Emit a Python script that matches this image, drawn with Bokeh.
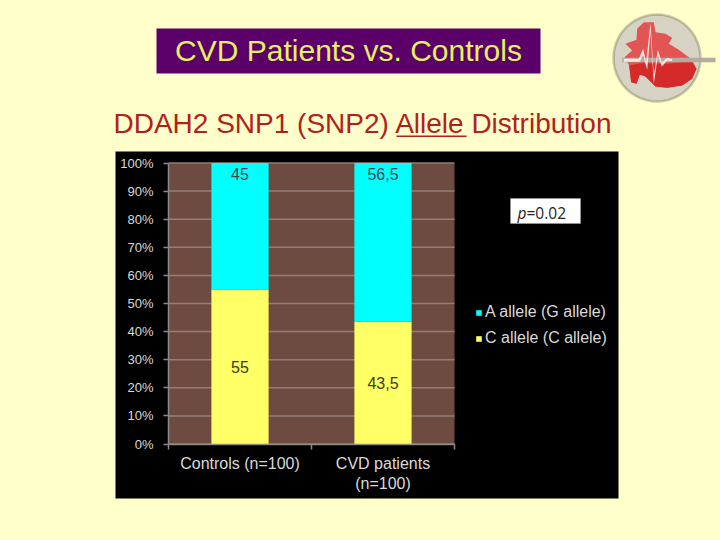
from bokeh.embed import file_html
from bokeh.resources import INLINE
from bokeh.plotting import figure
from bokeh.models import (ColumnDataSource, FixedTicker, Label, BoxAnnotation, PolyAnnotation,
                          Legend, LegendItem, Range1d, LinearAxis)
from bokeh.core.properties import value
import math

categories = ["Controls (n=100)", "CVD patients\n(n=100)"]
c_allele = [55, 43.5]
a_allele = [45, 56.5]
series_names = ["A allele (G allele)", "C allele (C allele)"]
y_ticks = [0, 10, 20, 30, 40, 50, 60, 70, 80, 90, 100]
title_text = "CVD Patients vs. Controls"
subtitle_text = "DDAH2 SNP1 (SNP2) Allele Distribution"

W, H = 716, 536
BG = "#FFFFCC"
LIGHT = "#DADADA"
AXIS = "#8E8A88"
# plot area in page pixels
PL, PR, PT, PB = 168.0, 454.0, 162.5, 443.5
ux = (PR - PL) / len(categories)
uy = (PB - PT) / 100.0

p = figure(width=W, height=H, output_backend="svg", toolbar_location=None,
           x_axis_location=None, y_axis_location=None,
           x_range=Range1d(-PL / ux, (W - PL) / ux),
           y_range=Range1d((PB - H) / uy, PB / uy),
           min_border=0, min_border_left=0, min_border_right=0, min_border_top=0, min_border_bottom=0)
p.background_fill_color = BG
p.border_fill_color = BG
p.outline_line_color = None
p.grid.visible = False

centers = [i + 0.5 for i in range(len(categories))]
src = ColumnDataSource(dict(
    x=centers, c=c_allele, a=a_allele, zero=[0] * len(categories),
    top=[c + a for c, a in zip(c_allele, a_allele)],
    c_mid=[v / 2 for v in c_allele],
    a_txt=[str(v).replace(".", ",") for v in a_allele],
    c_txt=[str(v).replace(".", ",") for v in c_allele],
))


def sy(y):
    return H - y


def box(l, t, r, b, color, line=None, level="image"):
    p.add_layout(BoxAnnotation(left=l, right=r, top=sy(t), bottom=sy(b),
                               left_units="screen", right_units="screen", top_units="screen", bottom_units="screen",
                               fill_color=color, fill_alpha=1, line_color=line, level=level, editable=False))


def label(text, x, y, size, color, align="left", style="normal", font="Liberation Sans"):
    p.add_layout(Label(x=x, y=sy(y), x_units="screen", y_units="screen", text=text, text_font=font,
                       text_font_size=f"{size}px", text_color=color, text_align=align,
                       text_baseline="middle", text_font_style=style))


def poly(points, fill, line=None, lw=1):
    p.add_layout(PolyAnnotation(xs=[a for a, b in points], ys=[sy(b) for a, b in points],
                                xs_units="screen", ys_units="screen", fill_color=fill, fill_alpha=1,
                                line_color=line, line_width=lw, level="overlay", editable=False))


box(115, 151, 618, 498, "#000000")
box(PL, PT, PR, PB, "#6E4B41")
box(156, 28, 540, 73, "#5A0068")
box(510, 198, 580, 223, "#FFFFFF", "#BBBBBB")

p.segment(x0=[0] * len(y_ticks), x1=[len(categories)] * len(y_ticks), y0=y_ticks, y1=y_ticks,
          line_color="#8E7F79", line_width=1.5, level="underlay")

ycoords = FixedTicker(ticks=y_ticks)
yaxis = LinearAxis(fixed_location=0, ticker=ycoords, bounds=(0, 100))
yaxis.major_label_overrides = {v: f"{v}%" for v in y_ticks}
xaxis = LinearAxis(fixed_location=0, bounds=(0, len(categories)),
                   ticker=FixedTicker(ticks=centers, minor_ticks=list(range(len(categories) + 1))))
xaxis.major_label_overrides = dict(zip(centers, categories))
for ax in (xaxis, yaxis):
    ax.axis_line_color = AXIS
    ax.axis_line_width = 1.5
    ax.major_label_text_color = LIGHT
    ax.major_label_text_font = "Liberation Sans"
yaxis.major_label_text_font_size = "13px"
xaxis.major_label_text_font_size = "16px"
yaxis.major_tick_line_color = AXIS
yaxis.major_tick_line_width = 1.5
yaxis.major_tick_in = 0
yaxis.major_tick_out = 5
yaxis.minor_tick_line_color = None
yaxis.major_label_standoff = 10
xaxis.major_tick_line_color = None
xaxis.minor_tick_line_color = AXIS
xaxis.minor_tick_line_width = 1.5
xaxis.minor_tick_in = 0
xaxis.minor_tick_out = 5
xaxis.major_label_standoff = 5
p.add_layout(yaxis, "left")
p.add_layout(xaxis, "below")

bw = 0.4
r_c = p.vbar(x="x", bottom="zero", top="c", width=bw, source=src, fill_color="#FFFF66", line_color=None)
r_a = p.vbar(x="x", bottom="c", top="top", width=bw, source=src, fill_color="#00FFFF", line_color=None)

p.text(x="x", y="top", text="a_txt", source=src, text_color="#3A4A4A", text_font=value("Liberation Sans"),
       text_font_size="16px", text_align="center", text_baseline="middle", y_offset=11)
p.text(x="x", y="c_mid", text="c_txt", source=src, text_color="#3A3A20", text_font=value("Liberation Sans"),
       text_font_size="16px", text_align="center", text_baseline="middle")

legend = Legend(items=[LegendItem(label=series_names[0], renderers=[r_a]),
                       LegendItem(label=series_names[1], renderers=[r_c])],
                location=(475, sy(347)), background_fill_alpha=0, border_line_color=None,
                glyph_width=7, glyph_height=7, label_text_color=LIGHT, label_text_font="Liberation Sans",
                label_text_font_size="16px", spacing=8, padding=0, margin=0, label_standoff=3,
                label_height=18)
p.add_layout(legend, "center")

label(title_text, 348, 50, 30, "#E6F060", align="center")
label(subtitle_text, 113, 123, 28, "#B3201A")
box(396, 135, 466, 136.5, "#B3201A", level="overlay")
label("p", 517, 212, 15.5, "#222222", style="italic", font="Open Sans")
label("=0.02", 526, 212, 15.5, "#222222", font="Open Sans")


def h(points):
    return [(600 + a / 3, b / 3) for a, b in points]


def ring(cx, cy, rx, ry, n=48):
    return [(cx + rx * math.cos(2 * math.pi * i / n), cy + ry * math.sin(2 * math.pi * i / n)) for i in range(n)]


poly(ring(656.5, 57.5, 43.5, 43.5), "#D6D3C4", "#4E5A2E", 2.5)
poly(h([(75, 130), (108, 118), (110, 85), (130, 65), (160, 65), (165, 95), (195, 100), (215, 112), (205, 130),
        (235, 148), (275, 178), (288, 205), (275, 235), (245, 255), (200, 262), (165, 258), (135, 228),
        (118, 222), (108, 250), (92, 245), (86, 195), (72, 170), (95, 150)]), "#E25555")
poly(h([(120, 188), (200, 190), (272, 182), (288, 205), (275, 235), (245, 255), (200, 262), (165, 258),
        (135, 228), (118, 222), (108, 250), (92, 245), (86, 195)]), "#D42A2A")
poly(h([(65, 172), (345, 172), (345, 185), (65, 185)]), "#B5ACA0")
poly(h([(70, 175), (115, 175), (128, 145), (137, 185), (150, 68), (160, 225), (172, 148), (184, 186), (200, 172),
        (215, 176), (215, 182), (200, 180), (184, 198), (172, 165), (160, 250), (150, 95), (140, 208),
        (128, 165), (118, 184), (70, 184)]), "#F6E6E2")

html = file_html(p, INLINE)
html = html.replace("</head>", f"<style>html,body{{background:{BG};}}</style></head>", 1)
open("out.html", "w").write(html)
